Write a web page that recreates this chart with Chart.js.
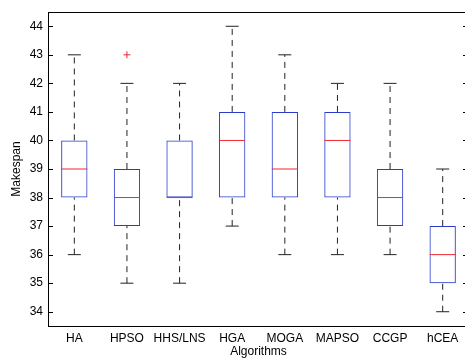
<!DOCTYPE html>
<html>
<head>
<meta charset="utf-8">
<script src="https://cdn.jsdelivr.net/npm/chart.js@4.4.0/dist/chart.umd.min.js"></script>
<style>
  html, body { margin: 0; padding: 0; background: #fff; overflow: hidden; }
  #wrap { width: 470px; height: 359px; }
</style>
</head>
<body>
<div id="wrap"><canvas id="chart" width="470" height="359"></canvas></div>
<script>
// boxplot summary
var algorithms = ['HA', 'HPSO', 'HHS/LNS', 'HGA', 'MOGA', 'MAPSO', 'CCGP', 'hCEA'];
var mins    = [36, 35, 35, 37, 36, 36, 36, 34];
var q1s     = [38, 37, 38, 38, 38, 38, 37, 35];
var medians = [39, 38, 38, 40, 39, 40, 38, 36];
var q3s     = [40, 39, 40, 41, 41, 41, 39, 37];
var maxs    = [43, 42, 42, 44, 43, 42, 42, 39];
var outliers = [{ x: 'HPSO', y: 43 }];
var yTicks = [34, 35, 36, 37, 38, 39, 40, 41, 42, 43, 44];

var boxes = algorithms.map(function(a, i) { return [q1s[i], q3s[i]]; });
var upperWhiskers = [];
var lowerWhiskers = [];
algorithms.forEach(function(a, i) {
    upperWhiskers.push({ x: a, y: q3s[i] }, { x: a, y: maxs[i] }, { x: a, y: null });
    lowerWhiskers.push({ x: a, y: mins[i] }, { x: a, y: q1s[i] }, { x: a, y: null });
});
var caps = [];
algorithms.forEach(function(a, i) {
    caps.push({ x: a, y: maxs[i] }, { x: a, y: mins[i] });
});
var medianPoints = algorithms.map(function(a, i) { return { x: a, y: medians[i] }; });

var fontFamily = '"Liberation Sans", Arial, Helvetica, sans-serif';

// frame around the plot + inward y ticks on both sides
var framePlugin = {
    id: 'frame',
    afterDraw: function(chart) {
        var ctx = chart.ctx;
        var area = chart.chartArea;
        var y = chart.scales.y;
        ctx.save();
        ctx.strokeStyle = '#000';
        ctx.lineWidth = 1;
        ctx.strokeRect(Math.round(area.left) + 0.5, Math.round(area.top) + 0.5,
            Math.round(area.right - area.left) - 1, Math.round(area.bottom - area.top));
        ctx.beginPath();
        yTicks.forEach(function(t) {
            var py = Math.round(y.getPixelForValue(t)) + 0.5;
            ctx.moveTo(area.left, py);
            ctx.lineTo(area.left + 5, py);
            ctx.moveTo(area.right - 1, py);
            ctx.lineTo(area.right - 6, py);
        });
        ctx.stroke();
        ctx.restore();
    }
};

var ctx = document.getElementById('chart').getContext('2d');
var chart = new Chart(ctx, {
    data: {
        labels: algorithms,
        datasets: [{
            type: 'bar',
            data: boxes,
            backgroundColor: 'rgba(0,0,0,0)',
            borderColor: 'rgb(40, 60, 200)',
            borderWidth: 1,
            borderSkipped: false,
            barPercentage: 0.5,
            categoryPercentage: 1,
            order: 4
        }, {
            type: 'line',
            data: upperWhiskers,
            borderColor: '#222',
            borderWidth: 1,
            borderDash: [6, 5],
            pointRadius: 0,
            spanGaps: false,
            order: 3
        }, {
            type: 'line',
            data: lowerWhiskers,
            borderColor: '#222',
            borderWidth: 1,
            borderDash: [6, 5],
            pointRadius: 0,
            spanGaps: false,
            order: 3
        }, {
            type: 'line',
            data: caps,
            showLine: false,
            pointStyle: 'line',
            pointRadius: 6.5,
            pointBorderColor: '#222',
            pointBorderWidth: 1,
            order: 2
        }, {
            type: 'line',
            data: medianPoints,
            showLine: false,
            pointStyle: 'line',
            pointRadius: 13,
            pointBorderColor: 'rgb(240, 40, 50)',
            pointBorderWidth: 1,
            order: 1
        }, {
            type: 'line',
            data: outliers,
            showLine: false,
            pointStyle: 'cross',
            pointRadius: 3.5,
            pointBorderColor: 'rgb(240, 40, 50)',
            pointBorderWidth: 1,
            order: 1
        }]
    },
    options: {
        responsive: false,
        animation: false,
        layout: { autoPadding: false, padding: { top: 12, right: 1, left: 0, bottom: 0 } },
        plugins: {
            legend: { display: false },
            tooltip: { enabled: false }
        },
        scales: {
            x: {
                type: 'category',
                offset: true,
                grid: { display: false, drawTicks: false },
                border: { display: false },
                ticks: {
                    color: '#000',
                    padding: 5,
                    font: { family: fontFamily, size: 12 },
                    maxRotation: 0,
                    autoSkip: false
                },
                title: {
                    display: true,
                    text: 'Algorithms',
                    color: '#000',
                    padding: { top: 0, bottom: 0 },
                    font: { family: fontFamily, size: 12 }
                },
                afterFit: function(scale) {
                    scale.height = 33;
                    scale.paddingLeft = 0;
                    scale.paddingRight = 0;
                }
            },
            y: {
                min: 33.5,
                max: 44.5,
                grid: { display: false, drawTicks: false },
                border: { display: false },
                afterBuildTicks: function(scale) {
                    scale.ticks = yTicks.map(function(v) { return { value: v }; });
                },
                ticks: {
                    color: '#000',
                    padding: 5,
                    font: { family: fontFamily, size: 12 }
                },
                title: {
                    display: true,
                    text: 'Makespan',
                    color: '#000',
                    padding: { top: 9, bottom: 0 },
                    font: { family: fontFamily, size: 12 }
                },
                afterFit: function(scale) {
                    scale.width = 48;
                    scale.paddingTop = 0;
                    scale.paddingBottom = 0;
                }
            }
        }
    },
    plugins: [framePlugin]
});
</script>
</body>
</html>
